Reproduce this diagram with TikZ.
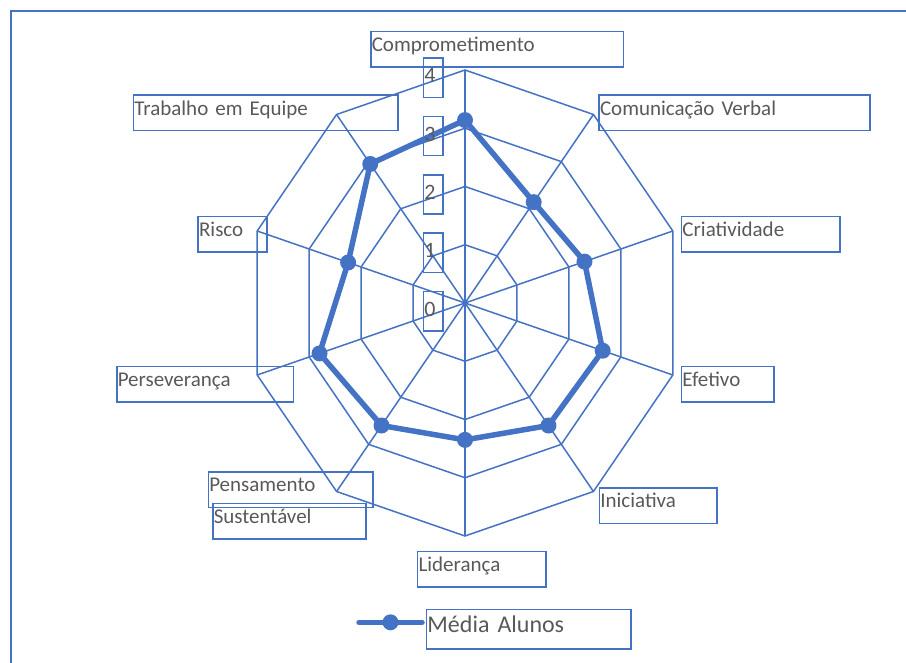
\documentclass[tikz,border=0pt]{standalone}
\usepackage{fontspec}
\setmainfont{Carlito}
\usepackage{xcolor}
\usepackage{tikz}
\usetikzlibrary{calc}
\definecolor{chartblue}{HTML}{4472C4}
\definecolor{labelgray}{HTML}{595959}

\begin{document}
\begin{tikzpicture}[x=1pt, y=-1pt,
		gridline/.style={chartblue, line width=1.5pt, line join=miter},
		series/.style={chartblue, line width=5.5pt, line join=round, line cap=round},
		dot/.style={circle, fill=chartblue, inner sep=0pt, minimum size=16pt},
		textbox/.style={draw=chartblue, line width=1.5pt, text=labelgray, anchor=north west, align=left, inner xsep=1pt, inner ysep=0pt},
		axislabel/.style={textbox, font=\fontsize{21}{24}\selectfont, text height=20pt, text depth=15.5pt},
		levelbox/.style={textbox, font=\fontsize{22}{24}\selectfont, text width=17.6pt, text height=24.7pt, text depth=14.6pt},
		legendbox/.style={textbox, font=\fontsize{24}{28}\selectfont, text width=202.3pt, text height=23pt, text depth=16.6pt}]
		\useasboundingbox (0,0) rectangle (906,663);
		\draw [chartblue, line width=2pt] (11,663) -- (11,11.5) -- (906,11.5);
		
		\def\cx{465}
		\def\cy{303}
		\def\rx{218.5}
		\def\ry{233}
		\coordinate (c) at (\cx,\cy);
		\foreach \k in {1,...,4}
			\foreach \i in {0,...,9}
				\coordinate (r\k-\i) at ({\cx+\rx*\k/4*cos(90-36*\i)}, {\cy-\ry*\k/4*sin(90-36*\i)});
		\foreach \k in {1,...,4}
			\draw [gridline] (r\k-0) \foreach \i in {1,...,9}{ -- (r\k-\i) } -- cycle;
		\foreach \i in {0,...,9}
			\draw [gridline] (c) -- (r4-\i);
		
		\foreach \v [count=\i from 0] in {3.14,2.14,2.3,2.65,2.6,2.35,2.6,2.8,2.25,2.95}
			\coordinate (p\i) at ({\cx+\rx*\v/4*cos(90-36*\i)}, {\cy-\ry*\v/4*sin(90-36*\i)});
		\draw [series] (p0) \foreach \i in {1,...,9}{ -- (p\i) } -- cycle;
		\foreach \i in {0,...,9}
			\node[dot] (m\i) at (p\i) {};
		
		\foreach \k in {0,...,4}
			\node[levelbox] (lvl\k) at (422.7, {57.3+(4-\k)*58.4}) {\k};
		
		\node[axislabel, text width=250.7pt] (comprometimento) at (370,31) {Comprometimento};
		\node[axislabel, text width=268.7pt] (comunicacao) at (598.3,94.3) {Comunicação Verbal};
		\node[axislabel, text width=156.3pt] (criatividade) at (680.7,216) {Criatividade};
		\node[axislabel, text width=90.6pt] (efetivo) at (680.7,365.7) {Efetivo};
		\node[axislabel, text width=115.8pt] (iniciativa) at (598.6,487) {Iniciativa};
		\node[axislabel, text width=126.2pt] (lideranca) at (416.8,550.7) {Liderança};
		\node[axislabel, text width=162.5pt] (pensamento) at (207.5,471) {Pensamento};
		\node[axislabel, text width=151pt] (sustentavel) at (212,502.7) {Sustentável};
		\node[axislabel, text width=174.7pt] (perseveranca) at (116,365.7) {Perseverança};
		\node[axislabel, text width=66.7pt] (risco) at (197.3,215.7) {Risco};
		\node[axislabel, text width=262.6pt] (trabalho) at (132.7,94.3) {Trabalho em Equipe};
		
		\coordinate (legA) at (359,622.3);
		\coordinate (legB) at (422,622.3);
		\draw [series] (legA) -- (legB);
		\node[dot] (legdot) at ($(legA)!0.5!(legB)$) {};
		\node[legendbox] (legtext) at (425.7,608.7) {Média Alunos};
\end{tikzpicture}
\end{document}
